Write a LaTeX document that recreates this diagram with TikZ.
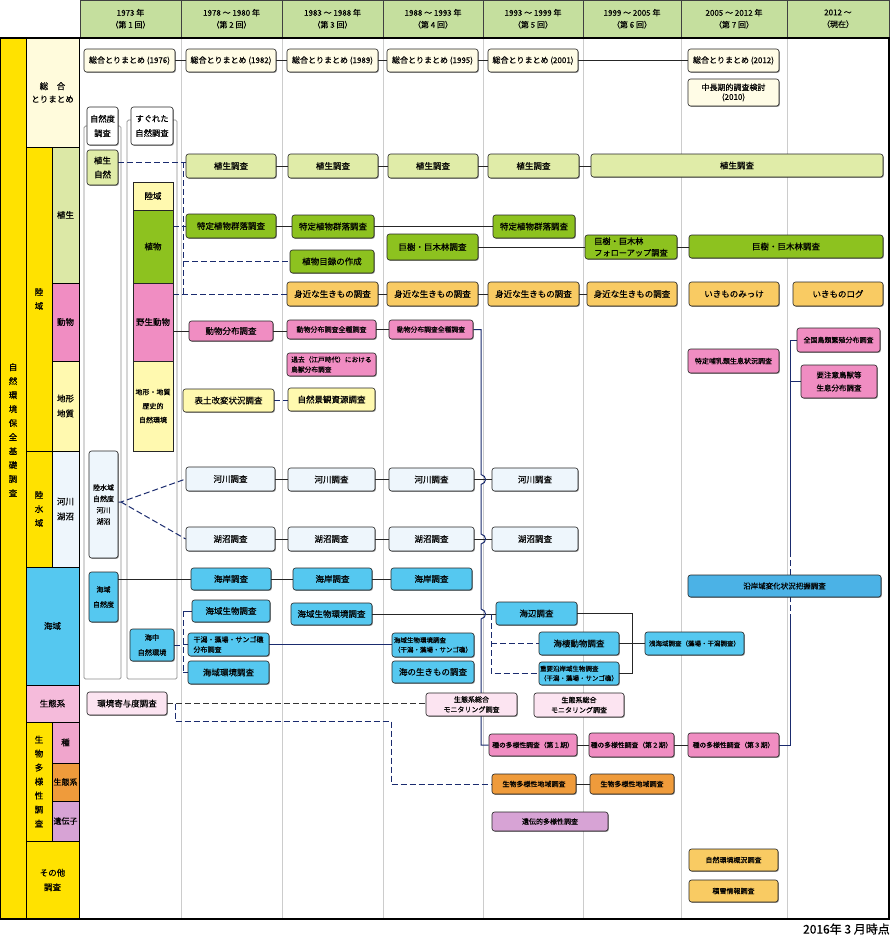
\documentclass[tikz,border=0pt]{standalone}
\usepackage{fontspec}
\setmainfont{Noto Sans CJK JP}[FakeBold=0.35]
\usetikzlibrary{shadows}
\pgfdeclarelayer{back}
\pgfdeclarelayer{lines}
\pgfsetlayers{back,lines,main}
\definecolor{hdr}{HTML}{C5DF9E}
\definecolor{yel}{HTML}{FFE200}
\definecolor{cream}{HTML}{FFFBDC}
\definecolor{creamb}{HTML}{FFFCE6}
\definecolor{lgc}{HTML}{DCE8A6}
\definecolor{lgb}{HTML}{E0ECA8}
\definecolor{grn}{HTML}{8DC21F}
\definecolor{pnk}{HTML}{F08DC2}
\definecolor{lyl}{HTML}{FFF9AF}
\definecolor{lbl}{HTML}{EEF6FC}
\definecolor{cyn}{HTML}{55C8F0}
\definecolor{blu}{HTML}{4BB2E6}
\definecolor{lpk}{HTML}{F5BBDB}
\definecolor{lpb}{HTML}{FCE4F1}
\definecolor{spk}{HTML}{F0A5CC}
\definecolor{org}{HTML}{EF9B3B}
\definecolor{prp}{HTML}{D7A3D5}
\definecolor{oyl}{HTML}{F9CB63}
\definecolor{nvy}{HTML}{1A2B6E}
\newcommand\mybox[7]{\node[#6,minimum width={(#4-#2)*1pt},minimum height={(#5-#3)*1pt}] (#1) at ({(#2+#4)/2},{(#3+#5)/2}) {#7};}
\begin{document}
\begin{tikzpicture}[x=1pt,y=-1pt,
  bx/.style={draw=black!85,line width=0.6pt,rounded corners=2.5pt,inner sep=1pt,align=center,font=\fontsize{8.5}{10}\selectfont,
    drop shadow={shadow xshift=0.8pt,shadow yshift=-0.8pt,opacity=0.45,fill=black}},
  cell/.style={draw=black,line width=0.8pt,inner sep=0pt,align=center,font=\fontsize{8.5}{14}\selectfont},
  hd/.style={draw=black!75,line width=0.8pt,fill=hdr,inner sep=0pt,align=center,font=\fontsize{8}{12}\selectfont},
  sq/.style={draw=black!85,line width=0.6pt,inner sep=0pt,align=center,font=\fontsize{8.5}{14}\selectfont},
  tall/.style={draw=black!45,line width=0.7pt,rounded corners=1.5pt},
  sepl/.style={draw=black!20,line width=0.8pt},
  ln/.style={draw=black!85,line width=0.7pt},
  nv/.style={draw=nvy,line width=1pt},
  nd/.style={draw=nvy,line width=1pt,dash pattern=on 6pt off 3pt},
  bd/.style={draw=black!80,line width=0.8pt,dash pattern=on 6pt off 3pt},
  f8/.style={font=\fontsize{8}{9.5}\selectfont},
  f75/.style={font=\fontsize{7.5}{9}\selectfont},
  f7/.style={font=\fontsize{7}{8.5}\selectfont},
  f65/.style={font=\fontsize{6.5}{9.5}\selectfont}
]
\begin{pgfonlayer}{back}
\fill[white] (0,0) rectangle (892,938);
\path[use as bounding box] (0,0) rectangle (892,938);
% header
\mybox{h1}{80}{0.5}{181}{37}{hd}{1973 年\\（第 1 回）}
\mybox{h2}{181}{0.5}{282}{37}{hd}{1978 ～ 1980 年\\（第 2 回）}
\mybox{h3}{282}{0.5}{383}{37}{hd}{1983 ～ 1988 年\\（第 3 回）}
\mybox{h4}{383}{0.5}{483}{37}{hd}{1988 ～ 1993 年\\（第 4 回）}
\mybox{h5}{483}{0.5}{583}{37}{hd}{1993 ～ 1999 年\\（第 5 回）}
\mybox{h6}{583}{0.5}{681}{37}{hd}{1999 ～ 2005 年\\（第 6 回）}
\mybox{h7}{681}{0.5}{787}{37}{hd}{2005 ～ 2012 年\\（第 7 回）}
\mybox{h8}{787}{0.5}{889}{37}{hd}{2012 ～\\（現在）}
% column separators
\foreach \xx in {181,282,383,483,583,681,787} {\draw[sepl] (\xx,38) -- (\xx,919);}
% categories
\mybox{cA}{0}{38}{26}{919}{cell,fill=yel}{}
\node[font=\fontsize{8.5}{14}\selectfont,align=center,inner sep=0pt] (cAl) at (13,430) {自\\然\\環\\境\\保\\全\\基\\礎\\調\\査};
\mybox{cB}{26}{38}{79}{147}{cell,fill=cream,font=\fontsize{8.5}{13}\selectfont}{総　合\\とりまとめ}
\mybox{cC}{26}{147}{52}{451}{cell,fill=yel}{陸\\域}
\mybox{cD}{52}{147}{79}{283}{cell,fill=lgc}{植生}
\mybox{cE}{52}{283}{79}{361}{cell,fill=pnk}{動物}
\mybox{cF}{52}{361}{79}{451}{cell,fill=lyl,font=\fontsize{8.5}{15}\selectfont}{地形\\地質}
\mybox{cG}{26}{451}{52}{567}{cell,fill=yel}{陸\\水\\域}
\mybox{cH}{52}{451}{79}{567}{cell,fill=lbl,font=\fontsize{8.5}{15}\selectfont}{河川\\湖沼}
\mybox{cI}{26}{567}{79}{685}{cell,fill=cyn}{海域}
\mybox{cJ}{26}{685}{79}{722}{cell,fill=lpk}{生態系}
\mybox{cK}{26}{722}{52}{841}{cell,fill=yel}{生\\物\\多\\様\\性\\調\\査}
\mybox{cL}{52}{722}{79}{763}{cell,fill=spk}{種}
\mybox{cM}{52}{763}{79}{801}{cell,fill=org,font=\fontsize{8}{10}\selectfont}{生態系}
\mybox{cN}{52}{801}{79}{841}{cell,fill=prp,font=\fontsize{8}{10}\selectfont}{遺伝子}
\mybox{cO}{26}{841}{79}{919}{cell,fill=yel,font=\fontsize{8.5}{14.5}\selectfont}{その他\\調査}
\draw[black,line width=1.2pt] (0,38) -- (889,38) -- (889,919) -- (0,919);
\draw[black,line width=1pt] (79,38) -- (79,919);
% tall frames
\mybox{tl}{84}{126}{121}{679}{tall}{}
\mybox{tr}{127}{120}{177}{679}{tall}{}
\end{pgfonlayer}

% ---- column 1
\mybox{s1}{84}{49}{175}{72}{bx,fill=creamb,f8}{総合とりまとめ (1976)}
\mybox{sz}{87}{107}{118}{145}{bx,fill=white,font=\fontsize{8.3}{14.5}\selectfont}{自然度\\調査}
\mybox{sg}{131}{107}{173}{145}{bx,fill=white,font=\fontsize{8.3}{14.5}\selectfont}{すぐれた\\自然調査}
\mybox{ss}{87}{150}{118}{185}{bx,fill=lgb,font=\fontsize{8.5}{14}\selectfont}{植生\\自然}
\mybox{rk}{133}{182}{173}{210}{sq,fill=lyl}{陸域}
\mybox{sb}{133}{210}{173}{283}{sq,fill=grn}{植物}
\mybox{yd}{133}{283}{173}{361}{sq,fill=pnk}{野生動物}
\mybox{cg}{133}{361}{173}{451}{sq,fill=lyl,font=\fontsize{7}{14}\selectfont}{地形・地質\\歴史的\\自然環境}
\mybox{rs}{89}{451}{118}{558}{bx,fill=lbl,font=\fontsize{7}{11.3}\selectfont}{陸水域\\自然度\\河川\\湖沼}
\mybox{kz}{89}{572}{118}{622}{bx,fill=cyn,font=\fontsize{7}{15}\selectfont}{海域\\自然度}
\mybox{kc}{130}{629}{174}{661}{bx,fill=cyn,font=\fontsize{7.2}{15}\selectfont}{海中\\自然環境}
\mybox{kk}{87}{692}{167}{715}{bx,fill=lpb}{環境寄与度調査}
% ---- column 2
\mybox{s2}{186}{49}{276}{72}{bx,fill=creamb,f8}{総合とりまとめ (1982)}
\mybox{v2}{186}{154}{276}{178}{bx,fill=lgb}{植生調査}
\mybox{t2}{186}{214}{276}{238}{bx,fill=grn}{特定植物群落調査}
\mybox{d2}{189}{321}{273}{341}{bx,fill=pnk}{動物分布調査}
\mybox{h2b}{183}{389}{274}{412}{bx,fill=lyl}{表土改変状況調査}
\mybox{r2}{186}{467}{275}{491}{bx,fill=lbl}{河川調査}
\mybox{l2}{186}{527}{275}{551}{bx,fill=lbl}{湖沼調査}
\mybox{k2}{191}{568}{271}{590}{bx,fill=cyn}{海岸調査}
\mybox{ks2}{192}{600}{270}{622}{bx,fill=cyn}{海域生物調査}
\mybox{hg2}{188}{633}{269}{656}{bx,fill=cyn,align=left,font=\fontsize{7}{10}\selectfont}{干潟・藻場・サンゴ礁\\分布調査}
\mybox{ke2}{188}{661}{269}{684}{bx,fill=cyn}{海域環境調査}
% ---- column 3
\mybox{s3}{287}{49}{378}{72}{bx,fill=creamb,f8}{総合とりまとめ (1989)}
\mybox{v3}{288}{154}{378}{178}{bx,fill=lgb}{植生調査}
\mybox{t3}{292}{215}{374}{238}{bx,fill=grn}{特定植物群落調査}
\mybox{mk3}{290}{250}{374}{273}{bx,fill=grn}{植物目録の作成}
\mybox{m3}{287}{282}{378}{306}{bx,fill=oyl}{身近な生きもの調査}
\mybox{d3}{287}{320}{376}{339}{bx,fill=pnk,f7}{動物分布調査全種調査}
\mybox{kd3}{287}{353}{376}{376}{bx,fill=pnk,align=left,font=\fontsize{6.7}{10}\selectfont}{過去（江戸時代）における\\鳥獣分布調査}
\mybox{sk3}{288}{388}{375}{411}{bx,fill=lyl}{自然景観資源調査}
\mybox{r3}{288}{468}{375}{491}{bx,fill=lbl}{河川調査}
\mybox{l3}{288}{527}{375}{551}{bx,fill=lbl}{湖沼調査}
\mybox{k3}{293}{568}{372}{590}{bx,fill=cyn}{海岸調査}
\mybox{ks3}{291}{603}{372}{625}{bx,fill=cyn}{海域生物環境調査}
% ---- column 4
\mybox{s4}{387}{49}{478}{72}{bx,fill=creamb,f8}{総合とりまとめ (1995)}
\mybox{v4}{388}{154}{478}{178}{bx,fill=lgb}{植生調査}
\mybox{kj4}{387}{234}{478}{260}{bx,fill=grn}{巨樹・巨木林調査}
\mybox{m4}{387}{282}{478}{306}{bx,fill=oyl}{身近な生きもの調査}
\mybox{d4}{389}{320}{473}{339}{bx,fill=pnk,font=\fontsize{6.8}{8}\selectfont}{動物分布調査全種調査}
\mybox{r4}{389}{468}{474}{491}{bx,fill=lbl}{河川調査}
\mybox{l4}{389}{527}{474}{551}{bx,fill=lbl}{湖沼調査}
\mybox{k4}{391}{568}{472}{590}{bx,fill=cyn}{海岸調査}
\mybox{ks4}{392}{633}{474}{657}{bx,fill=cyn,align=left,f65}{海域生物環境調査\\（干潟・藻場・サンゴ礁）}
\mybox{ui4}{392}{661}{474}{683}{bx,fill=cyn}{海の生きもの調査}
\mybox{se4}{426}{693}{517}{716}{bx,fill=lpb,font=\fontsize{7}{10}\selectfont}{生態系総合\\モニタリング調査}
% ---- column 5
\mybox{s5}{488}{49}{578}{72}{bx,fill=creamb,f8}{総合とりまとめ (2001)}
\mybox{v5}{488}{154}{579}{178}{bx,fill=lgb}{植生調査}
\mybox{t5}{493}{215}{575}{238}{bx,fill=grn}{特定植物群落調査}
\mybox{m5}{488}{282}{579}{306}{bx,fill=oyl}{身近な生きもの調査}
\mybox{r5}{492}{468}{578}{491}{bx,fill=lbl}{河川調査}
\mybox{l5}{492}{527}{578}{551}{bx,fill=lbl}{湖沼調査}
\mybox{ub5}{496}{602}{577}{625}{bx,fill=cyn}{海辺調査}
\mybox{ks5}{539}{632}{619}{655}{bx,fill=cyn}{海棲動物調査}
\mybox{jy5}{539}{662}{619}{685}{bx,fill=cyn,align=left,f65}{重要沿岸域生物調査\\（干潟・藻場・サンゴ礁）}
\mybox{se5}{534}{693}{624}{717}{bx,fill=lpb,font=\fontsize{7}{10}\selectfont}{生態系総合\\モニタリング調査}
\mybox{sy1}{489}{734}{577}{756}{bx,fill=pnk,font=\fontsize{6.8}{8}\selectfont}{種の多様性調査（第１期）}
\mybox{sc5}{492}{774}{576}{794}{bx,fill=org,f7}{生物多様性地域調査}
\mybox{id5}{492}{812}{608}{831}{bx,fill=prp,f7}{遺伝的多様性調査}
% ---- column 6
\mybox{vbig}{591}{154}{883}{177}{bx,fill=lgb}{植生調査}
\mybox{fu6}{585}{235}{677}{259}{bx,fill=grn,align=left,font=\fontsize{8.2}{11.5}\selectfont}{巨樹・巨木林\\フォローアップ調査}
\mybox{m6}{587}{282}{677}{306}{bx,fill=oyl}{身近な生きもの調査}
\mybox{sk6}{645}{632}{744}{655}{bx,fill=cyn,f65}{浅海域調査（藻場・干潟調査）}
\mybox{sy2}{589}{733}{674}{757}{bx,fill=pnk,font=\fontsize{6.8}{8}\selectfont}{種の多様性調査（第２期）}
\mybox{sc6}{590}{774}{674}{794}{bx,fill=org,f7}{生物多様性地域調査}
% ---- column 7
\mybox{s7}{688}{49}{779}{72}{bx,fill=creamb,f8}{総合とりまとめ (2012)}
\mybox{cc7}{688}{79}{779}{106}{bx,fill=creamb,f8}{中長期的調査検討\\(2010)}
\mybox{kj7}{689}{235}{883}{258}{bx,fill=grn}{巨樹・巨木林調査}
\mybox{im7}{689}{282}{779}{306}{bx,fill=oyl}{いきものみっけ}
\mybox{th7}{688}{349}{779}{373}{bx,fill=pnk,f7}{特定哺乳類生息状況調査}
\mybox{en7}{688}{575}{881}{597}{bx,fill=blu,f75}{沿岸域変化状況把握調査}
\mybox{sy3}{688}{733}{779}{757}{bx,fill=pnk,font=\fontsize{6.8}{8}\selectfont}{種の多様性調査（第３期）}
\mybox{sz7}{689}{849}{778}{871}{bx,fill=oyl,f7}{自然環境概況調査}
\mybox{ks7}{689}{880}{778}{902}{bx,fill=oyl,f7}{積雪情報調査}
% ---- column 8
\mybox{il8}{793}{282}{883}{306}{bx,fill=oyl}{いきものログ}
\mybox{zk8}{797}{328}{880}{352}{bx,fill=pnk,f7}{全国鳥類繁殖分布調査}
\mybox{yc8}{801}{365}{877}{398}{bx,fill=pnk,font=\fontsize{7.5}{13}\selectfont}{要注意鳥獣等\\生息分布調査}
% footer
\node[anchor=east,inner sep=0pt,font=\fontsize{12}{14}\selectfont] (ft) at (890,929) {2016年 3 月時点};

\begin{pgfonlayer}{lines}
% solid black chains
\draw[ln] (s1.east) -- (s2.west);
\draw[ln] (s2.east) -- (s3.west);
\draw[ln] (s3.east) -- (s4.west);
\draw[ln] (s4.east) -- (s5.west);
\draw[ln] (s5.east) -- (s7.west);
\draw[ln] (v2.east) -- (v3.west);
\draw[ln] (v3.east) -- (v4.west);
\draw[ln] (v4.east) -- (v5.west);
\draw[ln] (v5.east) -- (v5.east -| vbig.west);
\draw[ln] (t2.east) -- (t2.east -| t3.west);
\draw[ln] (t3.east) -- (t3.east -| t5.west);
\draw[ln] (kj4.east) -- (kj4.east -| fu6.west);
\draw[ln] (fu6.east) -- (fu6.east -| kj7.west);
\draw[ln] (m3.east) -- (m4.west);
\draw[ln] (m4.east) -- (m5.west);
\draw[ln] (m5.east) -- (m6.west);
\draw[ln] (yd.east |- d2.west) -- (d2.west);
\draw[ln] (d2.east) -- (d2.east -| d3.west);
\draw[ln] (d3.east) -- (d3.east -| d4.west);
\draw[ln] (r2.east) -- (r2.east -| r3.west);
\draw[ln] (r3.east) -- (r4.west);
\draw[ln] (r4.east) -- (r5.west);
\draw[ln] (l2.east) -- (l3.west);
\draw[ln] (l3.east) -- (l4.west);
\draw[ln] (l4.east) -- (l5.west);
\draw[ln] (kz.east |- k2.west) -- (k2.west);
\draw[ln] (k2.east) -- (k3.west);
\draw[ln] (k3.east) -- (k4.west);
\draw[ln] (ks3.east) -- (ks3.east -| ub5.west);
\draw[ln] (ub5.east) -- (632,613.5) |- (jy5.east);
\draw[ln] (ks5.east) -- (sk6.west);
\draw[ln] (sy1.east) -- (sy1.east -| sy2.west);
\draw[ln] (sy2.east) -- (sy3.west);
\draw[ln] (sc5.east) -- (sc6.west);
% navy solid
\draw[nv] (d4.east) -- (481,329.5) -- (481,474.5) .. controls (487,476) and (487,483) .. (481,484.5)
  -- (481,534) .. controls (487,535.5) and (487,542.5) .. (481,544)
  -- (481,609) .. controls (487,610.5) and (487,617.5) .. (481,619)
  -- (481,745) -- (sy1.west);
\draw[nv] (hg2.east) -- (hg2.east -| ks4.west);
\draw[nv] (sy3.east) -| (790,620);
\draw[nd] (790,620) -- (790,553);
\draw[nv] (790,553) |- (zk8.west);
\draw[nv] (790,381.5) -- (yc8.west);
% navy dashed
\coordinate (vt) at (183,162);
\draw[nd] (ss.east |- vt) -- (v2.west |- vt);
\draw[nd] (vt) -- (183,294);
\draw[nd] (sb.east |- t2.west) -- (t2.west);
\draw[nd] (183,261.5) -- (mk3.west);
\draw[nd] (yd.east |- m3.west) -- (m3.west);
\coordinate (rsx) at (121,502);
\draw[nd] (rs.east |- rsx) -- (rsx) -- (r2.west);
\draw[nd] (rsx) -- (l2.west);
\draw[nd] (h2b.east) -- (h2b.east -| sk3.west);
\coordinate (kb) at (183,611);
\draw[nd] (kc.east) -- (183,645);
\draw[nd] (kb) -- (183,672.5);
\draw[nv] (kb) -- (ks2.west);
\draw[nd] (183,644.5) -- (hg2.west);
\draw[nd] (183,672.5) -- (ke2.west);
\coordinate (ubx) at (491,614);
\draw[nd] (ubx) |- (jy5.west);
\draw[nd] (491,643.5) -- (ks5.west);
\draw[bd] (kk.east) -- (kk.east -| se4.west);
\draw[nd] (175,703.5) -- (175,721) -- (391,721) |- (sc5.west);
\end{pgfonlayer}
\end{tikzpicture}
\end{document}
